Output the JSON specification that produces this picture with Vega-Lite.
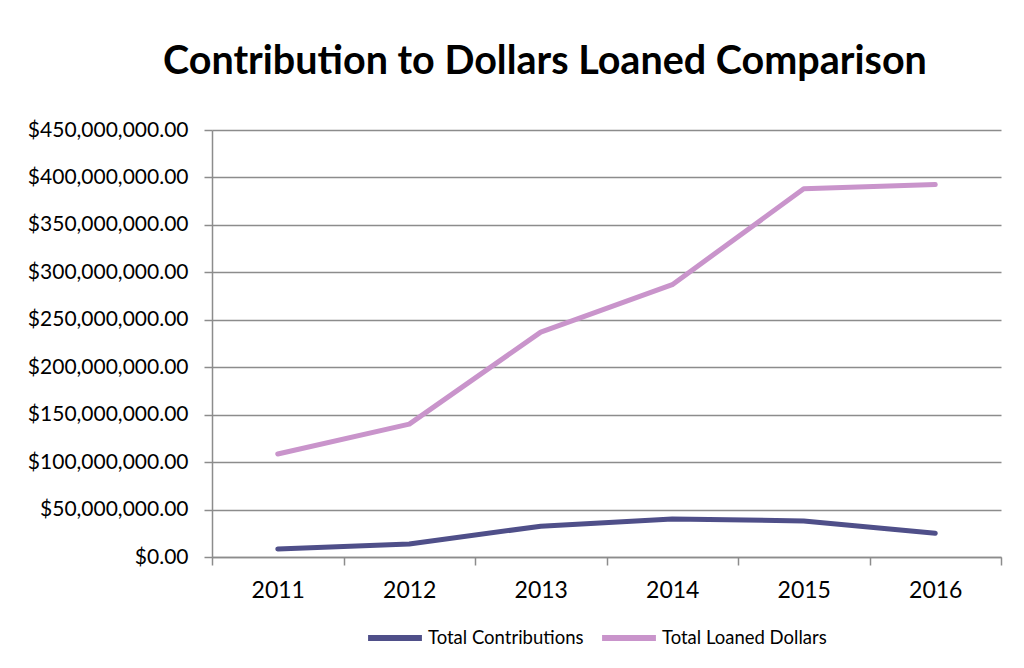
{
  "$schema": "https://vega.github.io/schema/vega-lite/v6.json",
  "autosize": {"type": "none"},
  "width": 789,
  "height": 427,
  "padding": {"left": 212, "top": 130, "right": 23, "bottom": 111},
  "background": "white",
  "title": {
    "text": "Contribution to Dollars Loaned Comparison",
    "font": "Lato",
    "fontSize": 39.5,
    "fontWeight": "bold",
    "color": "#000000",
    "anchor": "start",
    "frame": "group",
    "dx": -49,
    "offset": 37
  },
  "config": {
    "view": {"stroke": null},
    "font": "Lato"
  },
  "data": {
    "values": [
      {"year": "2011", "series": "Total Contributions", "value": 8400000},
      {"year": "2012", "series": "Total Contributions", "value": 13700000},
      {"year": "2013", "series": "Total Contributions", "value": 32500000},
      {"year": "2014", "series": "Total Contributions", "value": 40000000},
      {"year": "2015", "series": "Total Contributions", "value": 38000000},
      {"year": "2016", "series": "Total Contributions", "value": 25000000},
      {"year": "2011", "series": "Total Loaned Dollars", "value": 108500000},
      {"year": "2012", "series": "Total Loaned Dollars", "value": 140000000},
      {"year": "2013", "series": "Total Loaned Dollars", "value": 237000000},
      {"year": "2014", "series": "Total Loaned Dollars", "value": 287000000},
      {"year": "2015", "series": "Total Loaned Dollars", "value": 388000000},
      {"year": "2016", "series": "Total Loaned Dollars", "value": 392500000}
    ]
  },
  "mark": {"type": "line", "strokeWidth": 5, "strokeCap": "round", "strokeJoin": "round"},
  "encoding": {
    "x": {
      "field": "year",
      "type": "ordinal",
      "bandPosition": 0.5,
      "scale": {"type": "band", "paddingInner": 0, "paddingOuter": 0},
      "axis": {
        "title": null,
        "labelAngle": 0,
        "labelFont": "Lato",
        "labelFontSize": 23,
        "labelColor": "#000000",
        "labelPadding": 14,
        "tickBand": "extent",
        "tickSize": 8,
        "tickColor": "#8c8c8c",
        "tickWidth": 1.5,
        "domainColor": "#8c8c8c",
        "domainWidth": 1.5,
        "grid": false
      }
    },
    "y": {
      "field": "value",
      "type": "quantitative",
      "scale": {"domain": [0, 450000000], "nice": false},
      "axis": {
        "title": null,
        "values": [0, 50000000, 100000000, 150000000, 200000000, 250000000, 300000000, 350000000, 400000000, 450000000],
        "format": "$,.2f",
        "labelFont": "Lato",
        "labelFontSize": 21,
        "labelColor": "#000000",
        "labelPadding": 16,
        "labelLimit": 300,
        "tickSize": 8,
        "tickColor": "#8c8c8c",
        "tickWidth": 1.5,
        "domainColor": "#8c8c8c",
        "domainWidth": 1.5,
        "grid": true,
        "gridColor": "#8c8c8c",
        "gridWidth": 1.5
      }
    },
    "color": {
      "field": "series",
      "type": "nominal",
      "scale": {"domain": ["Total Contributions", "Total Loaned Dollars"], "range": ["#4F4F89", "#C994CB"]},
      "legend": {
        "title": null,
        "orient": "none",
        "legendX": 153,
        "legendY": 478,
        "direction": "horizontal",
        "symbolType": "stroke",
        "symbolSize": 2900,
        "symbolStrokeWidth": 6,
        "labelFont": "Lato",
        "labelFontSize": 18.5,
        "labelColor": "#000000",
        "labelLimit": 400,
        "labelOffset": 3,
        "columnPadding": 6
      }
    }
  }
}
